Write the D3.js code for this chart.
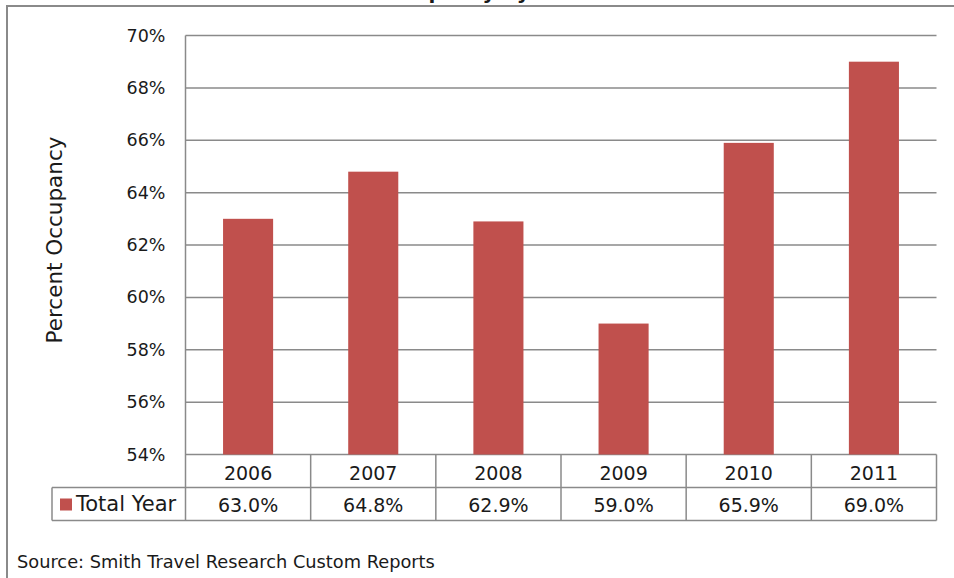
<!DOCTYPE html>
<html>
<head>
<meta charset="utf-8">
<script src="https://cdn.jsdelivr.net/npm/d3@7"></script>
<style>
  body { margin: 0; background: #fff; }
  text { font-family: "DejaVu Sans", sans-serif; fill: #1a1a1a; }
</style>
</head>
<body>
<div id="chart"></div>
<script>
// chart data
const years = ["2006", "2007", "2008", "2009", "2010", "2011"];
const occupancy = [63.0, 64.8, 62.9, 59.0, 65.9, 69.0];
const yTicks = [54, 56, 58, 60, 62, 64, 66, 68, 70];
const seriesName = "Total Year";
const titleText = "Occupancy by Year";
const sourceText = "Source: Smith Travel Research Custom Reports";

const width = 954, height = 578;
const barColor = "#c0504d";
const lineColor = "#8a8a8a";

// plot area
const plot = { left: 185.5, right: 936.5, top: 35.5, bottom: 454.5 };
const rowH = 33;

const svg = d3.select("#chart").append("svg")
  .attr("width", width)
  .attr("height", height);

// outer frame (runs off the right and bottom edge)
svg.append("path")
  .attr("d", "M7," + (height + 5) + " L7,6 L" + (width + 5) + ",6")
  .attr("fill", "none")
  .attr("stroke", lineColor)
  .attr("stroke-width", 2);

// title, mostly cut off at top like in the original
svg.append("text")
  .attr("x", 480)
  .attr("y", -1)
  .attr("text-anchor", "middle")
  .style("font-size", "20px")
  .style("font-weight", "bold")
  .text(titleText);

// scales
const x = d3.scaleBand()
  .domain(years)
  .range([plot.left, plot.right])
  .paddingInner(0.6)
  .paddingOuter(0.3);

const xCell = d3.scaleBand()
  .domain(years)
  .range([plot.left, plot.right])
  .padding(0);

const y = d3.scaleLinear()
  .domain([54, 70])
  .range([plot.bottom, plot.top]);

// gridlines
svg.append("g")
  .selectAll("line")
  .data(yTicks)
  .join("line")
  .attr("x1", plot.left)
  .attr("x2", plot.right)
  .attr("y1", d => y(d))
  .attr("y2", d => y(d))
  .attr("stroke", lineColor)
  .attr("stroke-width", 1.5);

// y axis labels
const yAxis = d3.axisLeft(y)
  .tickValues(yTicks)
  .tickSize(0)
  .tickPadding(20)
  .tickFormat(d => d + "%");

const yAxisGroup = svg.append("g")
  .attr("transform", "translate(" + plot.left + ",0)")
  .call(yAxis);
yAxisGroup.select(".domain").remove();
yAxisGroup.selectAll("text")
  .attr("fill", "#1a1a1a")
  .style("font-family", "DejaVu Sans, sans-serif")
  .style("font-size", "17.5px");

// y axis title
svg.append("text")
  .attr("transform", "translate(62,240) rotate(-90)")
  .attr("text-anchor", "middle")
  .style("font-size", "21.5px")
  .text("Percent Occupancy");

// bars
svg.append("g")
  .selectAll("rect")
  .data(occupancy)
  .join("rect")
  .attr("x", (d, i) => x(years[i]))
  .attr("width", x.bandwidth())
  .attr("y", d => y(d))
  .attr("height", d => y(54) - y(d))
  .attr("fill", barColor);

// data table
const tableTop = plot.bottom;
const row1 = tableTop + rowH;
const row2 = row1 + rowH;
const legendLeft = 52;

const table = svg.append("g")
  .attr("stroke", lineColor)
  .attr("stroke-width", 1.5);

// horizontal rules
table.append("line")
  .attr("x1", legendLeft).attr("x2", plot.right)
  .attr("y1", row1).attr("y2", row1);
table.append("line")
  .attr("x1", legendLeft).attr("x2", plot.right)
  .attr("y1", row2).attr("y2", row2);

// vertical rules
table.append("line")
  .attr("x1", plot.left).attr("x2", plot.left)
  .attr("y1", plot.top).attr("y2", row2);
table.append("line")
  .attr("x1", legendLeft).attr("x2", legendLeft)
  .attr("y1", row1).attr("y2", row2);
table.selectAll(".col")
  .data(years)
  .join("line")
  .attr("class", "col")
  .attr("x1", d => xCell(d) + xCell.bandwidth())
  .attr("x2", d => xCell(d) + xCell.bandwidth())
  .attr("y1", tableTop)
  .attr("y2", row2);

// year labels
svg.append("g")
  .selectAll("text")
  .data(years)
  .join("text")
  .attr("x", d => xCell(d) + xCell.bandwidth() / 2)
  .attr("y", tableTop + 25.5)
  .attr("text-anchor", "middle")
  .style("font-size", "19px")
  .text(d => d);

// value labels
svg.append("g")
  .selectAll("text")
  .data(occupancy)
  .join("text")
  .attr("x", (d, i) => xCell(years[i]) + xCell.bandwidth() / 2)
  .attr("y", row1 + 24)
  .attr("text-anchor", "middle")
  .style("font-size", "19px")
  .text(d => d3.format(".1f")(d) + "%");

// legend key
svg.append("rect")
  .attr("x", 60)
  .attr("y", 498.5)
  .attr("width", 12)
  .attr("height", 12)
  .attr("fill", barColor);
svg.append("text")
  .attr("x", 76)
  .attr("y", row1 + 23.5)
  .style("font-size", "21px")
  .text(seriesName);

// source note
svg.append("text")
  .attr("x", 17)
  .attr("y", 568)
  .style("font-size", "17.8px")
  .text(sourceText);
</script>
</body>
</html>
